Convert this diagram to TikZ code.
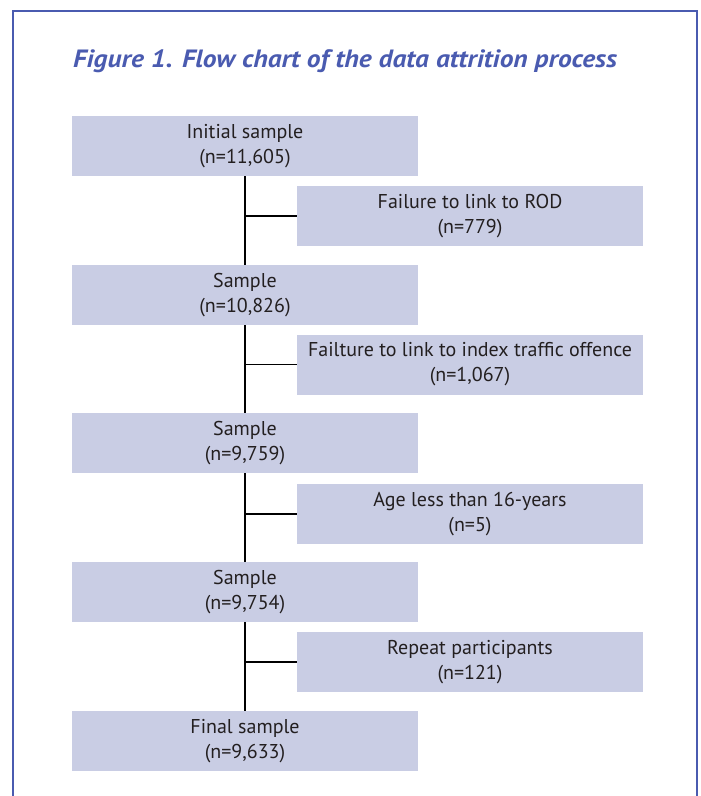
\documentclass[tikz,border=0pt]{standalone}
\usepackage{fontspec}
\usepackage{graphicx}
\setmainfont{PT Sans}
\definecolor{frameblue}{RGB}{74,91,176}
\definecolor{boxfill}{RGB}{201,205,228}
\definecolor{txt}{RGB}{35,31,32}
\begin{document}
\begin{tikzpicture}[x=1pt,y=-1pt,
  box/.style={fill=boxfill,draw=none,minimum width=346pt,minimum height=60pt,
    inner sep=0pt,align=center,text=txt,font=\fontsize{20}{25}\selectfont},
  trunk/.style={line width=2pt,black},
  branch/.style={line width=1.2pt,black}]
\useasboundingbox (0,0) rectangle (701,796);
\draw[frameblue,line width=1.8pt] (12.7,796) -- (12.7,11) -- (697,11) -- (697,796);
\node[anchor=base west,text=frameblue,inner sep=0pt,font=\fontsize{25}{30}\selectfont\bfseries\itshape] (title) at (73,67)
  {\scalebox{1.1}[1]{Figure 1. Flow chart of the data attrition process}};
\node[box] (b1) at (245,146) {Initial sample\\(n=11,605)};
\node[box] (r1) at (470,216) {Failure to link to ROD\\(n=779)};
\node[box] (b2) at (245,295) {Sample\\(n=10,826)};
\node[box] (r2) at (470,364.5) {Failture to link to index traffic offence\\(n=1,067)};
\node[box] (b3) at (245,443) {Sample\\(n=9,759)};
\node[box] (r3) at (470,514) {Age less than 16-years\\(n=5)};
\node[box] (b4) at (245,592) {Sample\\(n=9,754)};
\node[box] (r4) at (470,662) {Repeat participants\\(n=121)};
\node[box] (b5) at (245,741) {Final sample\\(n=9,633)};
\foreach \a/\b in {b1/b2,b2/b3,b3/b4,b4/b5} \draw[trunk] (\a.south) -- (\b.north);
\foreach \a/\r in {b1/r1,b2/r2,b3/r3,b4/r4} \draw[branch] (\a.south |- \r.west) -- (\r.west);
\end{tikzpicture}
\end{document}
